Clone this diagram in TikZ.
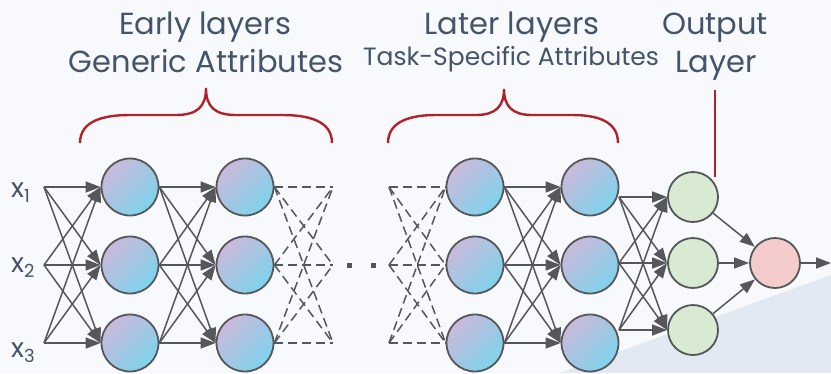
\documentclass[tikz,border=0pt]{standalone}
\usepackage{fontspec}
\setmainfont{Poppins}
\usetikzlibrary{arrows.meta}
\definecolor{ink}{HTML}{44546A}
\definecolor{wire}{HTML}{55575B}
\definecolor{lav}{HTML}{CBB9DA}
\definecolor{cyn}{HTML}{7DD3EC}
\definecolor{outg}{HTML}{D9EAD3}
\definecolor{outp}{HTML}{F4CCCC}
\definecolor{bracered}{HTML}{B0232A}
\definecolor{bgpale}{HTML}{F8F9FC}
\definecolor{bgwedge}{HTML}{E3E9F3}
\newcommand{\inlabel}[1]{x\raisebox{-5pt}{\fontsize{18}{18}\selectfont #1}}
\begin{document}
\begin{tikzpicture}[x=1pt,y=-1pt,
  neuron/.style={circle,draw=wire,line width=1.8pt,minimum size=57pt,inner sep=0pt,
    top color=lav,bottom color=cyn,shading angle=45},
  outneuron/.style={circle,draw=wire,line width=1.8pt,minimum size=50pt,inner sep=0pt,fill=outg},
  finalneuron/.style={circle,draw=wire,line width=1.8pt,minimum size=50pt,inner sep=0pt,fill=outp},
  conn/.style={draw=wire,line width=1.5pt,-{Triangle[length=15pt,width=11pt]}},
  dashconn/.style={draw=wire,line width=1.5pt,dash pattern=on 9pt off 5pt},
  brace/.style={draw=bracered,line width=2.4pt},
  heading/.style={text=ink,font=\fontsize{30.5}{34}\selectfont,inner sep=0pt},
  subheading/.style={text=ink,font=\fontsize{25}{28}\selectfont,inner sep=0pt},
  xlabel/.style={text=ink,font=\fontsize{27}{30}\selectfont,inner sep=0pt}]
  % background
  \fill[bgpale] (0,0) rectangle (831,373);
  \fill[bgwedge] (560,373) -- (831,275) -- (831,373) -- cycle;
  \useasboundingbox (0,0) rectangle (831,373);

  % input labels and the points the wires leave from
  \node[xlabel,anchor=base west] (x1) at (11,197) {\inlabel{1}};
  \node[xlabel,anchor=base west] (x2) at (11,272) {\inlabel{2}};
  \node[xlabel,anchor=base west] (x3) at (11,357) {\inlabel{3}};
  \coordinate (in1) at (44,187);
  \coordinate (in2) at (44,265);
  \coordinate (in3) at (44,343);

  % hidden layers
  \foreach \i/\y in {1/187,2/265,3/343}{
    \node[neuron] (a\i) at (130,\y) {};
    \node[neuron] (b\i) at (245,\y) {};
    \node[neuron] (c\i) at (475,\y) {};
    \node[neuron] (d\i) at (590,\y) {};
    \coordinate (e\i) at (333,\y);
    \coordinate (f\i) at (389,\y);
  }
  % output layer
  \node[outneuron] (g1) at (693,197) {};
  \node[outneuron] (g2) at (693,263) {};
  \node[outneuron] (g3) at (693,330) {};
  \node[finalneuron] (p) at (775,263) {};
  \coordinate (s1) at (619,197);
  \coordinate (s2) at (619,263);
  \coordinate (s3) at (619,330);
  \coordinate (out) at (831,263);

  % connections
  \foreach \i in {1,2,3}{
    \foreach \j in {1,2,3}{
      \draw[conn] (in\i) -- (a\j.west);
      \draw[conn] (a\i.east) -- (b\j.west);
      \draw[dashconn] (b\i.east) -- (e\j);
      \draw[dashconn] (f\i) -- (c\j.west);
      \draw[conn] (c\i.east) -- (d\j.west);
      \draw[conn] (s\i) -- (g\j.west);
    }
    \draw[conn] (g\i) -- (p);
  }
  \draw[conn] (p.east) -- (out);

  % ellipsis between the two groups
  \node[fill=wire,minimum size=5pt,inner sep=0pt] (dot1) at (349,265) {};
  \node[fill=wire,minimum size=5pt,inner sep=0pt] (dot2) at (373,265) {};

  % braces and the output pointer
  \draw[brace] (80,143) .. controls (80,121) and (103,115) .. (130,115) -- (176,115)
    .. controls (198,115) and (206,106) .. (206,88)
    .. controls (206,106) and (214,115) .. (236,115) -- (282,115)
    .. controls (309,115) and (332,121) .. (332,143);
  \draw[brace] (388,143) .. controls (388,121) and (411,115) .. (436,115) -- (476,115)
    .. controls (496,115) and (504,106) .. (504,89)
    .. controls (504,106) and (512,115) .. (532,115) -- (572,115)
    .. controls (597,115) and (618,121) .. (618,143);
  \coordinate (ptop) at (715,90);
  \coordinate (pbot) at (715,177);
  \draw[brace] (ptop) -- (pbot);

  % headings
  \node[heading,anchor=base] (t1) at (205,34) {Early layers};
  \node[heading,anchor=base] (t2) at (206,72) {Generic Attributes};
  \node[heading,anchor=base] (t3) at (512,34) {Later layers};
  \node[subheading,anchor=base] (t4) at (511,65) {Task-Specific Attributes};
  \node[heading,anchor=base] (t5) at (715,34) {Output};
  \node[heading,anchor=base] (t6) at (716,72) {Layer};
\end{tikzpicture}
\end{document}
